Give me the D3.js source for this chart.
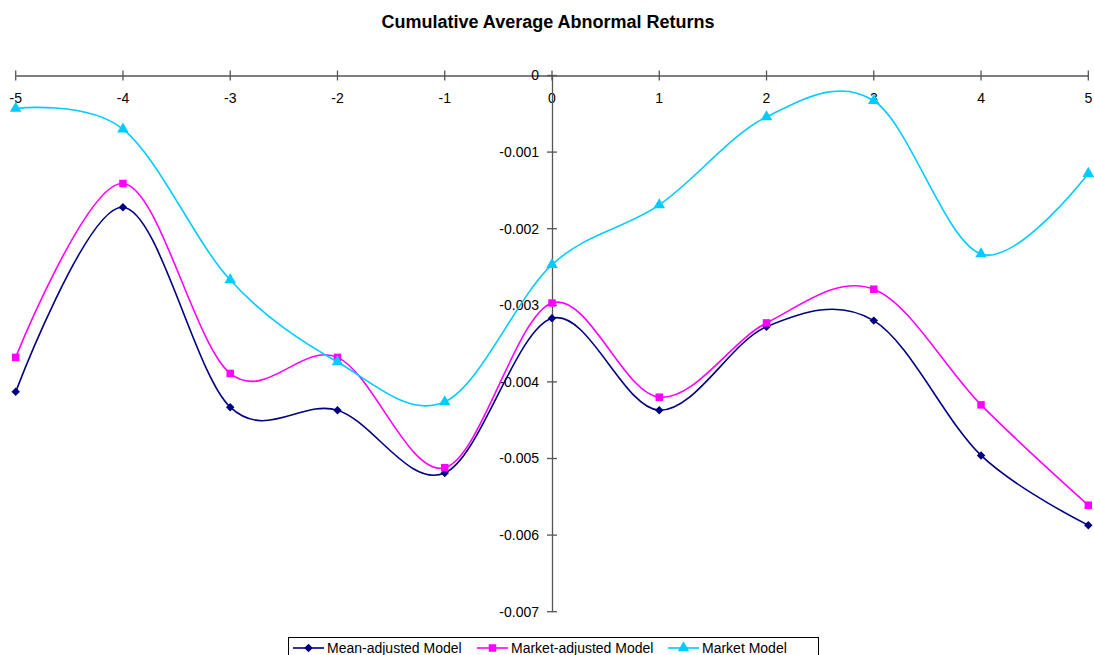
<!DOCTYPE html>
<html>
<head>
<meta charset="utf-8">
<script src="https://cdn.jsdelivr.net/npm/d3@7"></script>
<style>
  html, body { margin: 0; padding: 0; background: #fff; }
  svg { display: block; font-family: "Liberation Sans", Arial, sans-serif; }
</style>
</head>
<body>
<svg id="chart" width="1094" height="655"></svg>
<script>
const title = "Cumulative Average Abnormal Returns";
const days = [-5, -4, -3, -2, -1, 0, 1, 2, 3, 4, 5];
const xTicks = [-5, -4, -3, -2, -1, 0, 1, 2, 3, 4, 5];
const yTicks = [0, -0.001, -0.002, -0.003, -0.004, -0.005, -0.006, -0.007];
const seriesNames = ["Mean-adjusted Model", "Market-adjusted Model", "Market Model"];
const meanAdjusted = [-0.00413, -0.00172, -0.00433, -0.00437, -0.00519, -0.00317, -0.00437, -0.00328, -0.00320, -0.00496, -0.00587];
const marketAdjusted = [-0.00368, -0.00141, -0.00389, -0.00368, -0.00512, -0.00297, -0.00420, -0.00323, -0.00279, -0.00430, -0.00561];
const marketModel = [-0.00043, -0.00070, -0.00267, -0.00374, -0.00426, -0.00247, -0.00169, -0.00054, -0.00033, -0.00233, -0.00128];

const colors = ["#000080", "#FF00FF", "#00CCFF"];
const seriesValues = [meanAdjusted, marketAdjusted, marketModel];

// marker generators
const markerPath = [
  d3.symbol().type(d3.symbolSquare).size(36)(),   // rotated later -> diamond
  d3.symbol().type(d3.symbolSquare).size(56)(),
  d3.symbol().type(d3.symbolTriangle).size(58)()
];
const markerRotate = [45, 0, 0];

const svg = d3.select("#chart");
const axisColor = "#555";

const x = d3.scaleLinear().domain([-5, 5]).range([15.7, 1088.3]);
const y = d3.scaleLinear().domain([0, -0.007]).range([75.5, 611.7]);
const fmtInt = d => String(d);
const fmtY = d => d === 0 ? "0" : d.toFixed(3);

// Title
svg.append("text")
  .attr("x", 548).attr("y", 28)
  .attr("text-anchor", "middle")
  .attr("font-size", 18).attr("font-weight", "bold")
  .text(title);

// X axis (at y = 0) with crossing ticks
const xAxisG = svg.append("g").attr("transform", `translate(0,${y(0)})`);
xAxisG.call(d3.axisBottom(x).tickValues(xTicks).tickSize(0).tickFormat(""));
xAxisG.select(".domain").attr("stroke", axisColor).attr("stroke-width", 1.3);
xAxisG.selectAll(".tk").data(xTicks).enter().append("line")
  .attr("x1", d => x(d)).attr("x2", d => x(d))
  .attr("y1", -5).attr("y2", 5)
  .attr("stroke", axisColor).attr("stroke-width", 1.3);
xAxisG.selectAll(".lbl").data(xTicks).enter().append("text")
  .attr("x", d => x(d)).attr("y", 27)
  .attr("text-anchor", "middle")
  .attr("font-size", 14).attr("fill", "#000")
  .text(fmtInt);

// Y axis (at x = 0) with crossing ticks
const yAxisG = svg.append("g").attr("transform", `translate(${x(0)},0)`);
yAxisG.call(d3.axisLeft(y).tickValues(yTicks).tickSize(0).tickFormat(""));
yAxisG.select(".domain").attr("stroke", axisColor).attr("stroke-width", 1.3);
yAxisG.selectAll(".tk").data(yTicks).enter().append("line")
  .attr("y1", d => y(d)).attr("y2", d => y(d))
  .attr("x1", -5).attr("x2", 5)
  .attr("stroke", axisColor).attr("stroke-width", 1.3);
yAxisG.selectAll(".lbl").data(yTicks).enter().append("text")
  .attr("x", -13).attr("y", d => y(d))
  .attr("dy", "0.35em")
  .attr("text-anchor", "end")
  .attr("font-size", 14).attr("fill", "#000")
  .text(fmtY);

// Series
const line = d3.line()
  .x((d, i) => x(days[i]))
  .y(d => y(d))
  .curve(d3.curveCatmullRom.alpha(0));

seriesValues.forEach((vals, s) => {
  svg.append("path")
    .datum(vals)
    .attr("d", line)
    .attr("fill", "none")
    .attr("stroke", colors[s])
    .attr("stroke-width", 1.6);
  svg.selectAll(".m" + s).data(vals).enter().append("path")
    .attr("d", markerPath[s])
    .attr("transform", (d, i) => `translate(${x(days[i])},${y(d)}) rotate(${markerRotate[s]})`)
    .attr("fill", colors[s]);
});

// Legend
const legend = svg.append("g");
legend.append("rect")
  .attr("x", 288.5).attr("y", 637.5)
  .attr("width", 530).attr("height", 40)
  .attr("fill", "#fff").attr("stroke", "#000").attr("stroke-width", 1);
const legendX = [293, 477, 668];
seriesNames.forEach((name, s) => {
  const g = legend.append("g").attr("transform", `translate(${legendX[s]},648)`);
  g.append("line").attr("x1", 0).attr("x2", 31).attr("y1", 0).attr("y2", 0)
    .attr("stroke", colors[s]).attr("stroke-width", 1.6);
  g.append("path")
    .attr("d", markerPath[s])
    .attr("transform", `translate(15.5,0) rotate(${markerRotate[s]})`)
    .attr("fill", colors[s]);
  g.append("text").attr("x", 34).attr("y", 0).attr("dy", "0.35em")
    .attr("font-size", 14).attr("fill", "#000")
    .text(name);
});
</script>
</body>
</html>
